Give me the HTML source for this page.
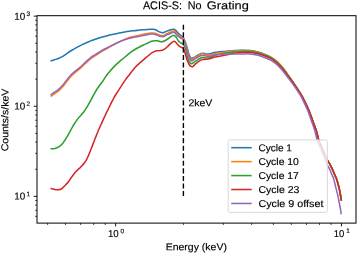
<!DOCTYPE html>
<html><head><meta charset="utf-8"><style>
html,body{margin:0;padding:0;background:#fff;width:357px;height:253px;overflow:hidden}
svg{display:block;will-change:transform}
text{font-family:"Liberation Sans",sans-serif;text-rendering:geometricPrecision;stroke:#000;stroke-width:0.15px}
</style></head><body>
<svg xmlns="http://www.w3.org/2000/svg" width="357" height="253" viewBox="0 0 357 253">
<rect x="0" y="0" width="357" height="253" fill="#fff"/>
<defs><clipPath id="ax"><rect x="37.0" y="15.7" width="319.0" height="207.4"/></clipPath></defs>
<g clip-path="url(#ax)">
<path d="M50.50,61.00 C51.03,60.83 52.70,60.31 53.70,59.99 C54.70,59.68 55.55,59.43 56.50,59.11 C57.45,58.79 58.45,58.47 59.40,58.06 C60.35,57.66 61.25,57.21 62.20,56.66 C63.15,56.12 64.38,55.27 65.10,54.79 C65.82,54.31 65.78,54.30 66.50,53.80 C67.22,53.29 68.45,52.39 69.40,51.76 C70.35,51.12 71.25,50.56 72.20,49.99 C73.15,49.42 74.00,48.97 75.10,48.36 C76.20,47.75 77.70,46.92 78.80,46.34 C79.90,45.76 80.75,45.32 81.70,44.86 C82.65,44.40 83.55,44.01 84.50,43.59 C85.45,43.16 86.45,42.72 87.40,42.31 C88.35,41.91 89.25,41.52 90.20,41.14 C91.15,40.75 92.00,40.41 93.10,40.00 C94.20,39.59 95.70,39.04 96.80,38.66 C97.90,38.27 98.75,38.00 99.70,37.72 C100.65,37.43 101.55,37.19 102.50,36.93 C103.45,36.67 104.45,36.42 105.40,36.17 C106.35,35.92 107.25,35.67 108.20,35.43 C109.15,35.20 110.13,34.96 111.10,34.75 C112.07,34.54 113.13,34.33 114.00,34.14 C114.87,33.96 115.22,33.88 116.30,33.65 C117.38,33.43 119.08,33.08 120.50,32.80 C121.92,32.53 123.37,32.25 124.80,32.00 C126.23,31.75 127.52,31.53 129.10,31.31 C130.68,31.08 132.73,30.86 134.30,30.67 C135.87,30.49 137.08,30.36 138.50,30.20 C139.92,30.05 141.37,29.88 142.80,29.75 C144.23,29.62 145.85,29.51 147.10,29.44 C148.35,29.36 149.30,29.32 150.30,29.30 C151.30,29.28 152.15,29.18 153.10,29.30 C154.05,29.42 155.05,29.62 156.00,30.00 C156.95,30.38 157.87,31.17 158.80,31.60 C159.73,32.03 160.73,32.43 161.60,32.60 C162.47,32.77 163.27,32.80 164.00,32.60 C164.73,32.40 165.22,31.75 166.00,31.40 C166.78,31.05 167.77,30.80 168.70,30.50 C169.63,30.20 170.82,29.80 171.60,29.60 C172.38,29.40 172.80,29.25 173.40,29.30 C174.00,29.35 174.60,29.47 175.20,29.90 C175.80,30.33 176.30,31.15 177.00,31.90 C177.70,32.65 178.62,33.68 179.40,34.40 C180.18,35.12 181.02,35.62 181.70,36.20 C182.38,36.78 182.90,36.93 183.50,37.90 C184.10,38.87 184.70,40.40 185.30,42.00 C185.90,43.60 186.53,45.57 187.10,47.50 C187.67,49.43 188.13,51.95 188.70,53.60 C189.27,55.25 190.00,56.62 190.50,57.40 C191.00,58.18 191.12,58.28 191.70,58.30 C192.28,58.32 193.02,58.00 194.00,57.50 C194.98,57.00 196.40,55.97 197.60,55.30 C198.80,54.63 200.22,53.85 201.20,53.50 C202.18,53.15 202.62,53.10 203.50,53.20 C204.38,53.30 205.50,53.98 206.50,54.09 C207.50,54.19 208.25,54.08 209.50,53.83 C210.75,53.58 212.55,52.92 214.00,52.60 C215.45,52.28 216.37,52.10 218.20,51.90 C220.03,51.70 222.53,51.60 225.00,51.40 C227.47,51.20 230.33,50.90 233.00,50.70 C235.67,50.50 238.08,50.26 241.00,50.22 C243.92,50.19 247.67,50.19 250.50,50.49 C253.33,50.79 255.63,51.39 258.00,52.03 C260.37,52.68 262.78,53.65 264.70,54.38 C266.62,55.11 267.92,55.56 269.50,56.40 C271.08,57.24 272.62,58.20 274.20,59.40 C275.78,60.60 277.42,62.01 279.00,63.60 C280.58,65.19 282.25,67.13 283.70,68.96 C285.15,70.79 286.23,72.53 287.70,74.60 C289.17,76.67 290.92,79.07 292.50,81.38 C294.08,83.69 295.62,85.99 297.20,88.44 C298.78,90.89 300.87,94.14 302.00,96.08 C303.13,98.02 303.28,98.61 304.00,100.06 C304.72,101.51 305.38,102.81 306.30,104.80 C307.22,106.79 308.45,109.38 309.50,112.00 C310.55,114.62 311.55,117.62 312.60,120.50 C313.65,123.38 314.98,126.85 315.80,129.30 C316.62,131.75 317.03,133.50 317.50,135.20 C317.97,136.90 317.85,137.40 318.60,139.50 C319.35,141.60 320.87,145.08 322.00,147.80 C323.13,150.52 324.48,153.70 325.40,155.80 C326.32,157.90 326.73,158.98 327.50,160.40 C328.27,161.82 329.20,162.85 330.00,164.30 C330.80,165.75 331.58,167.52 332.30,169.10 C333.02,170.68 333.63,172.27 334.30,173.80 C334.97,175.33 335.75,176.87 336.30,178.30 C336.85,179.73 337.13,180.80 337.60,182.40 C338.07,184.00 338.60,185.67 339.10,187.90 C339.60,190.13 340.22,193.68 340.60,195.80 C340.98,197.92 341.27,199.80 341.40,200.60" fill="none" stroke="#1f77b4" stroke-width="1.55" stroke-linejoin="round" stroke-linecap="butt"/>
<path d="M50.60,96.49 C51.12,96.14 52.72,95.06 53.70,94.39 C54.68,93.73 55.55,93.19 56.50,92.49 C57.45,91.79 58.45,91.06 59.40,90.20 C60.35,89.34 61.25,88.40 62.20,87.32 C63.15,86.23 64.08,84.98 65.10,83.68 C66.12,82.37 67.30,80.72 68.30,79.48 C69.30,78.23 70.15,77.20 71.10,76.19 C72.05,75.18 73.05,74.24 74.00,73.40 C74.95,72.56 75.87,71.89 76.80,71.15 C77.73,70.40 78.73,69.66 79.60,68.92 C80.47,68.18 81.13,67.53 82.00,66.71 C82.87,65.89 83.85,64.89 84.80,63.99 C85.75,63.09 86.75,62.15 87.70,61.30 C88.65,60.45 89.55,59.65 90.50,58.90 C91.45,58.14 92.45,57.42 93.40,56.77 C94.35,56.11 95.25,55.58 96.20,54.98 C97.15,54.37 98.33,53.63 99.10,53.14 C99.87,52.65 100.03,52.52 100.80,52.04 C101.57,51.57 102.75,50.84 103.70,50.29 C104.65,49.74 105.55,49.27 106.50,48.75 C107.45,48.23 108.45,47.71 109.40,47.18 C110.35,46.66 111.25,46.13 112.20,45.60 C113.15,45.07 114.08,44.52 115.10,43.98 C116.12,43.44 117.07,42.96 118.30,42.36 C119.53,41.76 121.08,41.02 122.50,40.39 C123.92,39.75 125.37,39.08 126.80,38.53 C128.23,37.99 129.15,37.64 131.10,37.12 C133.05,36.60 136.52,35.86 138.50,35.42 C140.48,34.97 141.57,34.75 143.00,34.45 C144.43,34.15 145.88,33.85 147.10,33.61 C148.32,33.36 149.30,33.10 150.30,33.00 C151.30,32.90 152.15,32.90 153.10,33.00 C154.05,33.10 155.05,33.30 156.00,33.60 C156.95,33.90 157.87,34.48 158.80,34.80 C159.73,35.12 160.73,35.40 161.60,35.50 C162.47,35.60 163.28,35.63 164.00,35.40 C164.72,35.17 165.08,34.53 165.90,34.10 C166.72,33.67 167.90,33.22 168.90,32.80 C169.90,32.38 171.08,31.90 171.90,31.60 C172.72,31.30 173.23,30.97 173.80,31.00 C174.37,31.03 174.72,31.28 175.30,31.80 C175.88,32.32 176.55,33.38 177.30,34.10 C178.05,34.82 178.98,35.52 179.80,36.10 C180.62,36.68 181.55,37.15 182.20,37.60 C182.85,38.05 183.18,37.87 183.70,38.80 C184.22,39.73 184.73,41.55 185.30,43.20 C185.87,44.85 186.53,46.73 187.10,48.70 C187.67,50.67 188.13,53.32 188.70,55.00 C189.27,56.68 190.00,58.02 190.50,58.80 C191.00,59.58 191.12,59.80 191.70,59.70 C192.28,59.60 193.02,58.83 194.00,58.20 C194.98,57.57 196.40,56.60 197.60,55.90 C198.80,55.20 200.22,54.32 201.20,54.00 C202.18,53.68 202.62,53.85 203.50,54.00 C204.38,54.15 205.50,54.70 206.50,54.89 C207.50,55.07 208.25,55.29 209.50,55.13 C210.75,54.96 212.55,54.25 214.00,53.90 C215.45,53.55 216.37,53.28 218.20,53.00 C220.03,52.72 222.53,52.49 225.00,52.20 C227.47,51.91 230.33,51.53 233.00,51.25 C235.67,50.97 238.08,50.61 241.00,50.52 C243.92,50.44 247.67,50.46 250.50,50.75 C253.33,51.03 255.63,51.62 258.00,52.25 C260.37,52.89 262.78,53.84 264.70,54.55 C266.62,55.27 267.92,55.71 269.50,56.53 C271.08,57.35 272.62,58.30 274.20,59.48 C275.78,60.67 277.42,62.06 279.00,63.64 C280.58,65.22 282.25,67.13 283.70,68.96 C285.15,70.79 286.23,72.53 287.70,74.60 C289.17,76.67 290.92,79.07 292.50,81.38 C294.08,83.69 295.62,85.99 297.20,88.44 C298.78,90.89 300.87,94.14 302.00,96.08 C303.13,98.02 303.28,98.61 304.00,100.06 C304.72,101.51 305.38,102.81 306.30,104.80 C307.22,106.79 308.45,109.38 309.50,112.00 C310.55,114.62 311.55,117.62 312.60,120.50 C313.65,123.38 314.98,126.85 315.80,129.30 C316.62,131.75 317.03,133.50 317.50,135.20 C317.97,136.90 317.85,137.40 318.60,139.50 C319.35,141.60 320.87,145.08 322.00,147.80 C323.13,150.52 324.48,153.70 325.40,155.80 C326.32,157.90 326.73,158.98 327.50,160.40 C328.27,161.82 329.20,162.85 330.00,164.30 C330.80,165.75 331.58,167.52 332.30,169.10 C333.02,170.68 333.63,172.27 334.30,173.80 C334.97,175.33 335.75,176.87 336.30,178.30 C336.85,179.73 337.13,180.80 337.60,182.40 C338.07,184.00 338.60,185.67 339.10,187.90 C339.60,190.13 340.22,193.68 340.60,195.80 C340.98,197.92 341.27,199.80 341.40,200.60" fill="none" stroke="#ff7f0e" stroke-width="1.55" stroke-linejoin="round" stroke-linecap="butt"/>
<path d="M50.50,148.70 C51.23,148.66 53.52,148.72 54.90,148.43 C56.28,148.15 57.48,147.84 58.80,146.97 C60.12,146.09 61.48,144.78 62.80,143.19 C64.12,141.60 65.42,139.54 66.70,137.43 C67.98,135.33 69.30,132.72 70.50,130.56 C71.70,128.40 72.75,126.33 73.90,124.47 C75.05,122.60 76.22,120.93 77.40,119.38 C78.58,117.83 79.92,116.44 81.00,115.16 C82.08,113.87 83.02,112.83 83.90,111.66 C84.78,110.50 85.50,109.44 86.30,108.18 C87.10,106.91 87.92,105.47 88.70,104.08 C89.48,102.69 90.27,101.22 91.00,99.86 C91.73,98.50 92.40,97.22 93.10,95.93 C93.80,94.63 94.48,93.31 95.20,92.07 C95.92,90.83 96.62,89.68 97.40,88.51 C98.18,87.34 99.13,86.10 99.90,85.07 C100.67,84.03 101.35,83.20 102.00,82.30 C102.65,81.40 103.27,80.48 103.80,79.67 C104.33,78.86 104.60,78.34 105.20,77.44 C105.80,76.55 106.62,75.33 107.40,74.30 C108.18,73.27 109.13,72.16 109.90,71.26 C110.67,70.36 111.27,69.69 112.00,68.88 C112.73,68.07 113.45,67.26 114.30,66.38 C115.15,65.50 116.15,64.49 117.10,63.60 C118.05,62.71 119.05,61.86 120.00,61.05 C120.95,60.25 121.87,59.53 122.80,58.77 C123.73,58.02 124.77,57.19 125.60,56.50 C126.43,55.82 126.75,55.52 127.80,54.67 C128.85,53.83 130.57,52.39 131.90,51.44 C133.23,50.49 134.45,49.74 135.80,48.96 C137.15,48.19 138.72,47.44 140.00,46.79 C141.28,46.13 142.50,45.54 143.50,45.05 C144.50,44.57 145.12,44.30 146.00,43.88 C146.88,43.47 147.85,43.01 148.80,42.56 C149.75,42.11 150.75,41.51 151.70,41.20 C152.65,40.89 153.55,40.77 154.50,40.70 C155.45,40.63 156.45,40.65 157.40,40.80 C158.35,40.95 159.40,41.43 160.20,41.60 C161.00,41.77 161.43,41.93 162.20,41.80 C162.97,41.67 163.88,41.27 164.80,40.80 C165.72,40.33 166.75,39.67 167.70,39.00 C168.65,38.33 169.67,37.37 170.50,36.80 C171.33,36.23 172.10,35.83 172.70,35.60 C173.30,35.37 173.63,35.27 174.10,35.40 C174.57,35.53 175.03,35.90 175.50,36.40 C175.97,36.90 176.40,37.65 176.90,38.40 C177.40,39.15 177.92,40.20 178.50,40.90 C179.08,41.60 179.78,42.17 180.40,42.60 C181.02,43.03 181.73,43.23 182.20,43.50 C182.67,43.77 182.85,43.78 183.20,44.20 C183.55,44.62 183.93,45.23 184.30,46.00 C184.67,46.77 185.05,47.73 185.40,48.80 C185.75,49.87 186.12,51.32 186.40,52.40 C186.68,53.48 186.72,53.95 187.10,55.30 C187.48,56.65 188.13,59.17 188.70,60.50 C189.27,61.83 190.00,62.75 190.50,63.30 C191.00,63.85 191.12,63.97 191.70,63.80 C192.28,63.63 193.02,62.97 194.00,62.30 C194.98,61.63 196.40,60.55 197.60,59.80 C198.80,59.05 200.22,58.17 201.20,57.80 C202.18,57.43 202.62,57.55 203.50,57.60 C204.38,57.65 205.50,58.08 206.50,58.09 C207.50,58.09 208.25,58.01 209.50,57.63 C210.75,57.25 212.55,56.34 214.00,55.80 C215.45,55.26 216.37,54.83 218.20,54.40 C220.03,53.97 222.53,53.56 225.00,53.20 C227.47,52.84 230.33,52.53 233.00,52.25 C235.67,51.97 238.08,51.64 241.00,51.52 C243.92,51.40 247.67,51.30 250.50,51.52 C253.33,51.74 255.63,52.26 258.00,52.85 C260.37,53.44 262.78,54.36 264.70,55.07 C266.62,55.77 267.92,56.24 269.50,57.06 C271.08,57.89 272.62,58.85 274.20,60.04 C275.78,61.23 277.42,62.64 279.00,64.22 C280.58,65.80 282.25,67.73 283.70,69.53 C285.15,71.32 286.23,72.98 287.70,74.98 C289.17,76.98 290.92,79.30 292.50,81.54 C294.08,83.78 295.62,86.02 297.20,88.44 C298.78,90.86 300.87,94.14 302.00,96.08 C303.13,98.02 303.28,98.61 304.00,100.06 C304.72,101.51 305.38,102.81 306.30,104.80 C307.22,106.79 308.45,109.38 309.50,112.00 C310.55,114.62 311.55,117.62 312.60,120.50 C313.65,123.38 314.98,126.85 315.80,129.30 C316.62,131.75 317.03,133.50 317.50,135.20 C317.97,136.90 317.85,137.40 318.60,139.50 C319.35,141.60 320.87,145.08 322.00,147.80 C323.13,150.52 324.48,153.70 325.40,155.80 C326.32,157.90 326.73,158.98 327.50,160.40 C328.27,161.82 329.20,162.85 330.00,164.30 C330.80,165.75 331.58,167.52 332.30,169.10 C333.02,170.68 333.63,172.27 334.30,173.80 C334.97,175.33 335.75,176.87 336.30,178.30 C336.85,179.73 337.13,180.80 337.60,182.40 C338.07,184.00 338.60,185.67 339.10,187.90 C339.60,190.13 340.22,193.68 340.60,195.80 C340.98,197.92 341.27,199.80 341.40,200.60" fill="none" stroke="#2ca02c" stroke-width="1.55" stroke-linejoin="round" stroke-linecap="butt"/>
<path d="M50.50,188.50 C50.92,188.58 52.12,188.80 53.00,189.00 C53.88,189.20 54.85,189.58 55.80,189.70 C56.75,189.82 57.80,189.82 58.70,189.70 C59.60,189.58 60.43,189.42 61.20,189.00 C61.97,188.58 62.65,187.75 63.30,187.16 C63.95,186.57 64.47,186.10 65.10,185.47 C65.73,184.84 66.43,184.15 67.10,183.38 C67.77,182.60 68.42,181.75 69.10,180.81 C69.78,179.88 70.48,178.78 71.20,177.76 C71.92,176.74 72.68,175.64 73.40,174.69 C74.12,173.74 74.80,172.87 75.50,172.07 C76.20,171.28 76.88,170.59 77.60,169.90 C78.32,169.21 79.07,168.63 79.80,167.95 C80.53,167.27 81.22,166.67 82.00,165.81 C82.78,164.94 83.72,163.86 84.50,162.77 C85.28,161.69 86.05,160.47 86.70,159.30 C87.35,158.12 87.83,157.02 88.40,155.72 C88.97,154.43 89.43,153.22 90.10,151.53 C90.77,149.85 91.67,147.51 92.40,145.62 C93.13,143.73 93.85,141.87 94.50,140.21 C95.15,138.54 95.58,137.41 96.30,135.64 C97.02,133.87 98.03,131.38 98.80,129.57 C99.57,127.75 100.20,126.32 100.90,124.75 C101.60,123.18 102.40,121.43 103.00,120.12 C103.60,118.82 104.00,117.97 104.50,116.90 C105.00,115.83 105.40,114.95 106.00,113.70 C106.60,112.44 107.40,110.80 108.10,109.38 C108.80,107.95 109.63,106.29 110.20,105.14 C110.77,103.99 110.93,103.59 111.50,102.46 C112.07,101.33 112.90,99.66 113.60,98.38 C114.30,97.09 114.93,96.01 115.70,94.76 C116.47,93.51 117.30,92.25 118.20,90.85 C119.10,89.45 120.27,87.65 121.10,86.36 C121.93,85.07 122.48,84.17 123.20,83.09 C123.92,82.01 124.68,80.87 125.40,79.87 C126.12,78.86 126.80,77.98 127.50,77.08 C128.20,76.17 129.02,75.18 129.60,74.43 C130.18,73.68 130.33,73.44 131.00,72.57 C131.67,71.70 132.58,70.39 133.60,69.19 C134.62,68.00 135.92,66.60 137.10,65.42 C138.28,64.25 139.52,63.20 140.70,62.15 C141.88,61.11 143.32,59.92 144.20,59.16 C145.08,58.41 145.23,58.28 146.00,57.64 C146.77,56.99 147.85,56.09 148.80,55.30 C149.75,54.51 150.75,53.55 151.70,52.90 C152.65,52.25 153.55,51.75 154.50,51.40 C155.45,51.05 156.45,50.93 157.40,50.80 C158.35,50.67 159.40,50.70 160.20,50.60 C161.00,50.50 161.43,50.48 162.20,50.20 C162.97,49.92 163.88,49.53 164.80,48.90 C165.72,48.27 166.75,47.28 167.70,46.40 C168.65,45.52 169.67,44.37 170.50,43.60 C171.33,42.83 172.10,42.18 172.70,41.80 C173.30,41.42 173.63,41.27 174.10,41.30 C174.57,41.33 175.03,41.58 175.50,42.00 C175.97,42.42 176.40,43.23 176.90,43.80 C177.40,44.37 177.98,44.92 178.50,45.40 C179.02,45.88 179.50,46.37 180.00,46.70 C180.50,47.03 181.02,47.17 181.50,47.40 C181.98,47.63 182.48,47.68 182.90,48.10 C183.32,48.52 183.70,49.25 184.00,49.90 C184.30,50.55 184.47,51.32 184.70,52.00 C184.93,52.68 185.10,52.95 185.40,54.00 C185.70,55.05 186.15,57.13 186.50,58.30 C186.85,59.47 187.03,59.93 187.50,61.00 C187.97,62.07 188.70,63.80 189.30,64.70 C189.90,65.60 190.50,66.10 191.10,66.40 C191.70,66.70 192.22,66.87 192.90,66.50 C193.58,66.13 194.22,65.05 195.20,64.20 C196.18,63.35 197.60,62.17 198.80,61.40 C200.00,60.63 201.22,59.94 202.40,59.60 C203.58,59.26 204.72,59.47 205.90,59.34 C207.08,59.20 208.15,59.13 209.50,58.79 C210.85,58.45 212.55,57.70 214.00,57.30 C215.45,56.90 216.37,56.77 218.20,56.40 C220.03,56.03 222.53,55.57 225.00,55.10 C227.47,54.63 230.33,54.02 233.00,53.60 C235.67,53.18 238.08,52.79 241.00,52.59 C243.92,52.40 247.67,52.23 250.50,52.42 C253.33,52.61 255.63,53.14 258.00,53.73 C260.37,54.31 262.78,55.25 264.70,55.95 C266.62,56.65 267.92,57.11 269.50,57.93 C271.08,58.75 272.62,59.70 274.20,60.88 C275.78,62.07 277.42,63.47 279.00,65.04 C280.58,66.61 282.25,68.54 283.70,70.30 C285.15,72.06 286.23,73.66 287.70,75.60 C289.17,77.54 290.92,79.76 292.50,81.92 C294.08,84.09 295.62,86.23 297.20,88.60 C298.78,90.97 300.87,94.23 302.00,96.14 C303.13,98.05 303.28,98.64 304.00,100.08 C304.72,101.52 305.38,102.81 306.30,104.80 C307.22,106.79 308.45,109.38 309.50,112.00 C310.55,114.62 311.55,117.62 312.60,120.50 C313.65,123.38 314.98,126.85 315.80,129.30 C316.62,131.75 317.03,133.50 317.50,135.20 C317.97,136.90 317.85,137.40 318.60,139.50 C319.35,141.60 320.87,145.08 322.00,147.80 C323.13,150.52 324.48,153.70 325.40,155.80 C326.32,157.90 326.73,158.98 327.50,160.40 C328.27,161.82 329.20,162.85 330.00,164.30 C330.80,165.75 331.58,167.52 332.30,169.10 C333.02,170.68 333.63,172.27 334.30,173.80 C334.97,175.33 335.75,176.87 336.30,178.30 C336.85,179.73 337.13,180.80 337.60,182.40 C338.07,184.00 338.60,185.67 339.10,187.90 C339.60,190.13 340.22,193.68 340.60,195.80 C340.98,197.92 341.27,199.80 341.40,200.60" fill="none" stroke="#d62728" stroke-width="1.55" stroke-linejoin="round" stroke-linecap="butt"/>
<path d="M50.60,94.80 C51.12,94.45 52.72,93.39 53.70,92.73 C54.68,92.07 55.55,91.53 56.50,90.84 C57.45,90.15 58.45,89.43 59.40,88.58 C60.35,87.73 61.25,86.80 62.20,85.73 C63.15,84.66 64.08,83.43 65.10,82.15 C66.12,80.86 67.30,79.25 68.30,78.02 C69.30,76.80 70.15,75.79 71.10,74.80 C72.05,73.81 73.05,72.90 74.00,72.08 C74.95,71.26 75.87,70.61 76.80,69.88 C77.73,69.14 78.73,68.42 79.60,67.69 C80.47,66.97 81.13,66.33 82.00,65.52 C82.87,64.72 83.85,63.73 84.80,62.85 C85.75,61.96 86.75,61.04 87.70,60.20 C88.65,59.37 89.55,58.59 90.50,57.84 C91.45,57.10 92.45,56.40 93.40,55.76 C94.35,55.12 95.25,54.60 96.20,54.01 C97.15,53.43 98.33,52.71 99.10,52.24 C99.87,51.76 100.03,51.63 100.80,51.18 C101.57,50.73 102.75,50.05 103.70,49.54 C104.65,49.03 105.55,48.59 106.50,48.11 C107.45,47.63 108.45,47.15 109.40,46.66 C110.35,46.17 111.25,45.68 112.20,45.19 C113.15,44.69 114.08,44.18 115.10,43.69 C116.12,43.19 117.07,42.74 118.30,42.21 C119.53,41.68 121.08,41.04 122.50,40.51 C123.92,39.98 125.37,39.48 126.80,39.05 C128.23,38.62 129.15,38.39 131.10,37.96 C133.05,37.53 136.52,36.89 138.50,36.48 C140.48,36.08 141.57,35.85 143.00,35.55 C144.43,35.26 145.88,34.95 147.10,34.71 C148.32,34.46 149.30,34.20 150.30,34.10 C151.30,34.00 152.15,34.00 153.10,34.10 C154.05,34.20 155.05,34.40 156.00,34.70 C156.95,35.00 157.87,35.58 158.80,35.90 C159.73,36.22 160.73,36.50 161.60,36.60 C162.47,36.70 163.28,36.72 164.00,36.50 C164.72,36.28 165.08,35.72 165.90,35.30 C166.72,34.88 167.90,34.42 168.90,34.00 C169.90,33.58 171.08,33.08 171.90,32.80 C172.72,32.52 173.23,32.25 173.80,32.30 C174.37,32.35 174.72,32.58 175.30,33.10 C175.88,33.62 176.55,34.68 177.30,35.40 C178.05,36.12 178.98,36.82 179.80,37.40 C180.62,37.98 181.55,38.45 182.20,38.90 C182.85,39.35 183.18,39.17 183.70,40.10 C184.22,41.03 184.73,42.85 185.30,44.50 C185.87,46.15 186.53,48.02 187.10,50.00 C187.67,51.98 188.13,54.70 188.70,56.40 C189.27,58.10 190.00,59.43 190.50,60.20 C191.00,60.97 191.12,61.12 191.70,61.00 C192.28,60.88 193.02,60.12 194.00,59.50 C194.98,58.88 196.40,57.95 197.60,57.30 C198.80,56.65 200.22,55.90 201.20,55.60 C202.18,55.30 202.62,55.40 203.50,55.50 C204.38,55.60 205.50,56.03 206.50,56.18 C207.50,56.33 208.25,56.57 209.50,56.39 C210.75,56.21 212.55,55.43 214.00,55.10 C215.45,54.77 216.37,54.57 218.20,54.40 C220.03,54.23 222.53,54.18 225.00,54.10 C227.47,54.02 230.33,53.92 233.00,53.90 C235.67,53.88 238.08,53.99 241.00,53.99 C243.92,53.99 247.67,53.69 250.50,53.91 C253.33,54.13 255.63,54.68 258.00,55.29 C260.37,55.89 262.78,56.84 264.70,57.55 C266.62,58.25 267.92,58.71 269.50,59.53 C271.08,60.35 272.62,61.30 274.20,62.48 C275.78,63.67 277.42,65.07 279.00,66.64 C280.58,68.21 282.25,70.14 283.70,71.91 C285.15,73.68 286.23,75.30 287.70,77.26 C289.17,79.21 290.92,81.45 292.50,83.64 C294.08,85.82 295.80,88.26 297.20,90.36 C298.60,92.46 299.95,94.59 300.90,96.23 C301.85,97.86 302.20,98.74 302.90,100.17 C303.60,101.60 304.20,102.83 305.10,104.80 C306.00,106.77 307.27,109.38 308.30,112.00 C309.33,114.62 310.28,117.62 311.30,120.50 C312.32,123.38 313.62,126.85 314.40,129.30 C315.18,131.75 315.57,133.50 316.00,135.20 C316.43,136.90 316.28,137.40 317.00,139.50 C317.72,141.60 319.22,145.08 320.30,147.80 C321.38,150.52 322.63,153.68 323.50,155.80 C324.37,157.92 324.83,158.88 325.50,160.50 C326.17,162.12 326.82,164.07 327.50,165.50 C328.18,166.93 328.93,167.72 329.60,169.10 C330.27,170.48 330.85,172.27 331.50,173.80 C332.15,175.33 333.00,176.93 333.50,178.30 C334.00,179.67 334.10,180.40 334.50,182.00 C334.90,183.60 335.33,185.60 335.90,187.90 C336.47,190.20 337.43,193.78 337.90,195.80 C338.37,197.82 338.30,197.97 338.70,200.00 C339.10,202.03 339.88,205.60 340.30,208.00 C340.72,210.40 341.05,213.33 341.20,214.40" fill="none" stroke="#9467bd" stroke-width="1.55" stroke-linejoin="round" stroke-linecap="butt"/>

<line x1="183.4" y1="196.1" x2="183.4" y2="24.8" stroke="#000" stroke-width="1.4" stroke-dasharray="5.1 2.46"/>
</g>
<text x="188.40" y="106.30" font-size="10.00" textLength="23.90" lengthAdjust="spacingAndGlyphs" transform="rotate(0.05 188.40 106.30)" fill="#000">2keV</text>
<rect x="228.20" y="139.90" width="99.15" height="72.45" rx="1.6" ry="1.6" fill="#fff" fill-opacity="0.8" stroke="#d9d9d9" stroke-width="1.0"/>
<line x1="231.2" y1="147.70" x2="251.7" y2="147.70" stroke="#1f77b4" stroke-width="1.55"/>
<text x="258.40" y="151.15" font-size="10.00" textLength="33.60" lengthAdjust="spacingAndGlyphs" transform="rotate(0.05 258.40 151.15)" fill="#000">Cycle 1</text>
<line x1="231.2" y1="161.64" x2="251.7" y2="161.64" stroke="#ff7f0e" stroke-width="1.55"/>
<text x="258.40" y="165.09" font-size="10.00" textLength="40.50" lengthAdjust="spacingAndGlyphs" transform="rotate(0.05 258.40 165.09)" fill="#000">Cycle 10</text>
<line x1="231.2" y1="175.58" x2="251.7" y2="175.58" stroke="#2ca02c" stroke-width="1.55"/>
<text x="258.40" y="179.03" font-size="10.00" textLength="40.50" lengthAdjust="spacingAndGlyphs" transform="rotate(0.05 258.40 179.03)" fill="#000">Cycle 17</text>
<line x1="231.2" y1="189.52" x2="251.7" y2="189.52" stroke="#d62728" stroke-width="1.55"/>
<text x="258.40" y="192.97" font-size="10.00" textLength="41.00" lengthAdjust="spacingAndGlyphs" transform="rotate(0.05 258.40 192.97)" fill="#000">Cycle 23</text>
<line x1="231.2" y1="203.46" x2="251.7" y2="203.46" stroke="#9467bd" stroke-width="1.55"/>
<text x="258.40" y="206.91" font-size="10.00" textLength="65.10" lengthAdjust="spacingAndGlyphs" transform="rotate(0.05 258.40 206.91)" fill="#000">Cycle 9 offset</text>

<rect x="37.0" y="15.7" width="319.00" height="207.40" fill="none" stroke="#000" stroke-width="1.0"/>
<line x1="47.61" y1="223.10" x2="47.61" y2="225.00" stroke="#000" stroke-width="0.70"/>
<line x1="65.50" y1="223.10" x2="65.50" y2="225.00" stroke="#000" stroke-width="0.70"/>
<line x1="80.62" y1="223.10" x2="80.62" y2="225.00" stroke="#000" stroke-width="0.70"/>
<line x1="93.71" y1="223.10" x2="93.71" y2="225.00" stroke="#000" stroke-width="0.70"/>
<line x1="105.27" y1="223.10" x2="105.27" y2="225.00" stroke="#000" stroke-width="0.70"/>
<line x1="115.60" y1="223.10" x2="115.60" y2="226.40" stroke="#000" stroke-width="0.90"/>
<line x1="183.59" y1="223.10" x2="183.59" y2="225.00" stroke="#000" stroke-width="0.70"/>
<line x1="223.36" y1="223.10" x2="223.36" y2="225.00" stroke="#000" stroke-width="0.70"/>
<line x1="251.58" y1="223.10" x2="251.58" y2="225.00" stroke="#000" stroke-width="0.70"/>
<line x1="273.46" y1="223.10" x2="273.46" y2="225.00" stroke="#000" stroke-width="0.70"/>
<line x1="291.35" y1="223.10" x2="291.35" y2="225.00" stroke="#000" stroke-width="0.70"/>
<line x1="306.47" y1="223.10" x2="306.47" y2="225.00" stroke="#000" stroke-width="0.70"/>
<line x1="319.56" y1="223.10" x2="319.56" y2="225.00" stroke="#000" stroke-width="0.70"/>
<line x1="331.12" y1="223.10" x2="331.12" y2="225.00" stroke="#000" stroke-width="0.70"/>
<line x1="341.45" y1="223.10" x2="341.45" y2="226.40" stroke="#000" stroke-width="0.90"/>
<line x1="35.10" y1="216.34" x2="37.00" y2="216.34" stroke="#000" stroke-width="0.70"/>
<line x1="35.10" y1="210.31" x2="37.00" y2="210.31" stroke="#000" stroke-width="0.70"/>
<line x1="35.10" y1="205.08" x2="37.00" y2="205.08" stroke="#000" stroke-width="0.70"/>
<line x1="35.10" y1="200.47" x2="37.00" y2="200.47" stroke="#000" stroke-width="0.70"/>
<line x1="33.70" y1="196.35" x2="37.00" y2="196.35" stroke="#000" stroke-width="0.90"/>
<line x1="35.10" y1="169.23" x2="37.00" y2="169.23" stroke="#000" stroke-width="0.70"/>
<line x1="35.10" y1="153.36" x2="37.00" y2="153.36" stroke="#000" stroke-width="0.70"/>
<line x1="35.10" y1="142.10" x2="37.00" y2="142.10" stroke="#000" stroke-width="0.70"/>
<line x1="35.10" y1="133.37" x2="37.00" y2="133.37" stroke="#000" stroke-width="0.70"/>
<line x1="35.10" y1="126.24" x2="37.00" y2="126.24" stroke="#000" stroke-width="0.70"/>
<line x1="35.10" y1="120.21" x2="37.00" y2="120.21" stroke="#000" stroke-width="0.70"/>
<line x1="35.10" y1="114.98" x2="37.00" y2="114.98" stroke="#000" stroke-width="0.70"/>
<line x1="35.10" y1="110.37" x2="37.00" y2="110.37" stroke="#000" stroke-width="0.70"/>
<line x1="33.70" y1="106.25" x2="37.00" y2="106.25" stroke="#000" stroke-width="0.90"/>
<line x1="35.10" y1="79.13" x2="37.00" y2="79.13" stroke="#000" stroke-width="0.70"/>
<line x1="35.10" y1="63.26" x2="37.00" y2="63.26" stroke="#000" stroke-width="0.70"/>
<line x1="35.10" y1="52.00" x2="37.00" y2="52.00" stroke="#000" stroke-width="0.70"/>
<line x1="35.10" y1="43.27" x2="37.00" y2="43.27" stroke="#000" stroke-width="0.70"/>
<line x1="35.10" y1="36.14" x2="37.00" y2="36.14" stroke="#000" stroke-width="0.70"/>
<line x1="35.10" y1="30.11" x2="37.00" y2="30.11" stroke="#000" stroke-width="0.70"/>
<line x1="35.10" y1="24.88" x2="37.00" y2="24.88" stroke="#000" stroke-width="0.70"/>
<line x1="35.10" y1="20.27" x2="37.00" y2="20.27" stroke="#000" stroke-width="0.70"/>
<line x1="33.70" y1="16.15" x2="37.00" y2="16.15" stroke="#000" stroke-width="0.90"/>
<text x="142.90" y="9.20" font-size="11.40" textLength="39.11" lengthAdjust="spacingAndGlyphs" transform="rotate(0.05 142.90 9.20)" fill="#000">ACIS-S:</text><text x="187.82" y="9.20" font-size="11.40" textLength="13.82" lengthAdjust="spacingAndGlyphs" transform="rotate(0.05 187.82 9.20)" fill="#000">No</text><text x="206.83" y="9.20" font-size="11.40" textLength="41.99" lengthAdjust="spacingAndGlyphs" transform="rotate(0.05 206.83 9.20)" fill="#000">Grating</text>
<text x="196.30" y="250.20" font-size="10.00" text-anchor="middle" textLength="61.20" lengthAdjust="spacingAndGlyphs" transform="rotate(0.05 196.30 250.20)" fill="#000">Energy (keV)</text>
<g transform="translate(8.35,120) rotate(-89.9)"><text x="0.00" y="0.00" font-size="10.00" text-anchor="middle" textLength="62.50" lengthAdjust="spacingAndGlyphs" transform="rotate(0.05 0.00 0.00)" fill="#000">Counts/s/keV</text></g>
<text x="107.95" y="237.10" font-size="10.00" textLength="10.73" lengthAdjust="spacingAndGlyphs" transform="rotate(0.05 107.95 237.10)" fill="#000">10</text><text x="120.60" y="233.30" font-size="6.40" transform="rotate(0.05 120.60 233.30)" fill="#000">0</text>
<text x="333.75" y="237.10" font-size="10.00" textLength="10.50" lengthAdjust="spacingAndGlyphs" transform="rotate(0.05 333.75 237.10)" fill="#000">10</text><text x="346.30" y="233.10" font-size="6.40" transform="rotate(0.05 346.30 233.10)" fill="#000">1</text>
<text x="14.30" y="199.60" font-size="10.00" textLength="11.00" lengthAdjust="spacingAndGlyphs" transform="rotate(0.05 14.30 199.60)" fill="#000">10</text><text x="26.60" y="196.30" font-size="6.40" transform="rotate(0.05 26.60 196.30)" fill="#000">1</text>
<text x="14.30" y="109.60" font-size="10.00" textLength="11.00" lengthAdjust="spacingAndGlyphs" transform="rotate(0.05 14.30 109.60)" fill="#000">10</text><text x="26.60" y="106.00" font-size="6.40" transform="rotate(0.05 26.60 106.00)" fill="#000">2</text>
<text x="14.30" y="19.80" font-size="10.00" textLength="11.00" lengthAdjust="spacingAndGlyphs" transform="rotate(0.05 14.30 19.80)" fill="#000">10</text><text x="26.60" y="16.10" font-size="6.40" transform="rotate(0.05 26.60 16.10)" fill="#000">3</text>
</svg>
</body></html>
